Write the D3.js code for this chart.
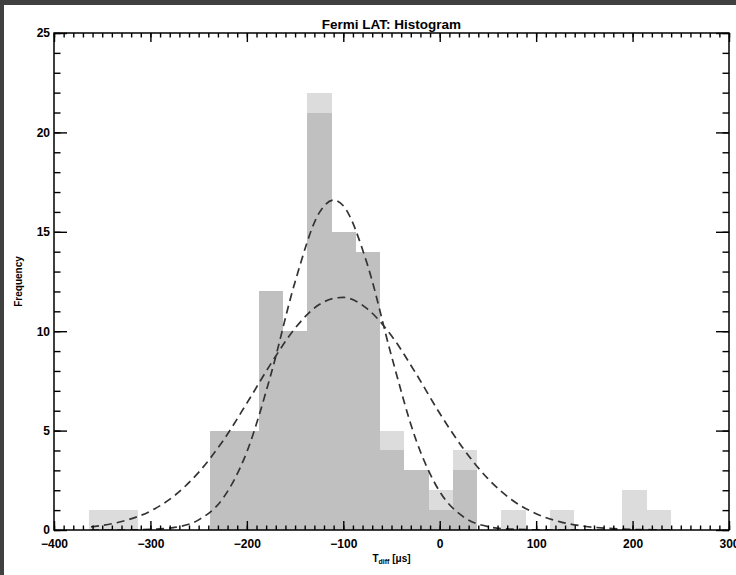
<!DOCTYPE html>
<html><head><meta charset="utf-8">
<script src="https://cdn.jsdelivr.net/npm/d3@7"></script>
<style>body{margin:0;background:#404040;} svg{display:block}</style>
</head><body><svg id="c" width="736" height="575"></svg>
<script>
// ---- data ----
const binEdges = [-363.4, -338.3, -313.1, -288.0, -262.9, -237.8, -212.6, -187.5, -162.4, -137.2, -112.1, -87.0, -61.8, -36.7, -11.6, 13.6, 38.7, 63.8, 89.0, 114.1, 139.2, 164.3, 189.5, 214.6, 239.7];
const allCounts    = [1, 1, 0, 0, 0, 5, 5, 12, 10, 22, 15, 14, 5, 3, 2, 4, 0, 1, 0, 1, 0, 0, 2, 1];
const subsetCounts = [0, 0, 0, 0, 0, 5, 5, 12, 10, 21, 15, 14, 4, 3, 1, 3, 0, 0, 0, 0, 0, 0, 0, 0];
const curveX  = [-375, -350, -325, -300, -275, -250, -225, -200, -175, -150, -125, -110, -100, -75, -50, -25, 0, 25, 50, 75, 100, 125, 150, 175, 200, 225, 250];
const narrowY = [0.00, 0.00, 0.00, 0.03, 0.13, 0.51, 1.58, 3.93, 7.83, 12.48, 15.95, 16.6, 16.31, 13.35, 8.75, 4.59, 1.93, 0.65, 0.17, 0.04, 0.01, 0.00, 0.00, 0.00, 0.00, 0.00, 0.00];
const wideY   = [0.10, 0.23, 0.49, 0.95, 1.73, 2.90, 4.47, 6.38, 8.37, 10.15, 11.34, 11.65, 11.70, 11.12, 9.77, 7.90, 5.87, 4.06, 2.58, 1.51, 0.82, 0.41, 0.19, 0.08, 0.03, 0.01, 0.00];
const xTicks = [-400, -300, -200, -100, 0, 100, 200, 300];
const yTicks = [0, 5, 10, 15, 20, 25];
const titleText = "Fermi LAT: Histogram";
const yTitle = "Frequency";

// ---- layout ----
const L = 54, R = 729, T = 33, B = 530;
const svg = d3.select("#c");
svg.append("rect").attr("x", 4).attr("y", 5).attr("width", 732).attr("height", 570).attr("fill", "#fff");

const x = d3.scaleLinear().domain([-400, 300]).range([L, R]);
const y = d3.scaleLinear().domain([0, 25]).range([B, T]);

const bins = allCounts.map((c, i) => ({x0: binEdges[i], x1: binEdges[i + 1], all: c, sub: subsetCounts[i]}));

const g = svg.append("g");
g.selectAll("rect.all").data(bins.filter(d => d.all > 0)).join("rect")
  .attr("x", d => x(d.x0)).attr("width", d => x(d.x1) - x(d.x0))
  .attr("y", d => y(d.all)).attr("height", d => y(0) - y(d.all))
  .attr("fill", "#dcdcdc").attr("shape-rendering", "crispEdges");
g.selectAll("rect.sub").data(bins.filter(d => d.sub > 0)).join("rect")
  .attr("x", d => x(d.x0)).attr("width", d => x(d.x1) - x(d.x0))
  .attr("y", d => y(d.sub)).attr("height", d => y(0) - y(d.sub))
  .attr("fill", "#c0c0c0").attr("shape-rendering", "crispEdges");

// curves
svg.append("clipPath").attr("id", "cp").append("rect")
  .attr("x", x(binEdges[0])).attr("y", T).attr("width", x(binEdges[binEdges.length - 1]) - x(binEdges[0])).attr("height", B - T);
const line = d3.line().x(d => x(d[0])).y(d => y(d[1])).curve(d3.curveMonotoneX);
[narrowY, wideY].forEach(arr => {
  svg.append("path").datum(curveX.map((v, i) => [v, arr[i]]))
    .attr("d", line).attr("fill", "none").attr("stroke", "#333")
    .attr("stroke-width", 1.7).attr("stroke-dasharray", "8,5")
    .attr("clip-path", "url(#cp)");
});

// axes (IDL style, inward ticks on all sides)
const fmt = d => d < 0 ? "\u2212" + Math.abs(d) : String(d);
function styleAxis(sel) {
  sel.select(".domain").remove();
  sel.selectAll("line").attr("stroke", "#000").attr("stroke-width", 1.4);
  sel.selectAll("text").attr("font-family", "Liberation Sans, Arial, sans-serif")
    .attr("font-weight", "bold").attr("font-size", 12).attr("fill", "#000");
}
const xMinor = d3.range(-400, 301, 10);
const yMinor = d3.range(0, 26, 1);
svg.append("g").attr("transform", `translate(0,${B})`)
  .call(d3.axisBottom(x).tickValues(xMinor).tickSize(-4.5).tickFormat("")).call(styleAxis);
svg.append("g").attr("transform", `translate(0,${B})`)
  .call(d3.axisBottom(x).tickValues(xTicks).tickSize(-9).tickPadding(9).tickFormat(fmt)).call(styleAxis);
svg.append("g").attr("transform", `translate(0,${T})`)
  .call(d3.axisTop(x).tickValues(xMinor).tickSize(-4.5).tickFormat("")).call(styleAxis);
svg.append("g").attr("transform", `translate(0,${T})`)
  .call(d3.axisTop(x).tickValues(xTicks).tickSize(-9).tickFormat("")).call(styleAxis);
svg.append("g").attr("transform", `translate(${L},0)`)
  .call(d3.axisLeft(y).tickValues(yMinor).tickSize(-6.5).tickFormat("")).call(styleAxis);
svg.append("g").attr("transform", `translate(${L},0)`)
  .call(d3.axisLeft(y).tickValues(yTicks).tickSize(-13).tickPadding(4).tickFormat(fmt)).call(styleAxis);
svg.append("g").attr("transform", `translate(${R},0)`)
  .call(d3.axisRight(y).tickValues(yMinor).tickSize(-6.5).tickFormat("")).call(styleAxis);
svg.append("g").attr("transform", `translate(${R},0)`)
  .call(d3.axisRight(y).tickValues(yTicks).tickSize(-13).tickFormat("")).call(styleAxis);

svg.append("rect").attr("x", L).attr("y", T).attr("width", R - L).attr("height", B - T)
  .attr("fill", "none").attr("stroke", "#000").attr("stroke-width", 1.5);

// titles
const ff = "Liberation Sans, Arial, sans-serif";
svg.append("text").attr("x", (L + R) / 2).attr("y", 29).attr("text-anchor", "middle")
  .attr("font-family", ff).attr("font-weight", "bold").attr("font-size", 13.5).text(titleText);
const xt = svg.append("text").attr("x", (L + R) / 2).attr("y", 562).attr("text-anchor", "middle")
  .attr("font-family", ff).attr("font-weight", "bold").attr("font-size", 10);
xt.append("tspan").text("T");
xt.append("tspan").attr("font-size", 7).attr("dy", 2).text("diff");
xt.append("tspan").attr("dy", -2).text(" [\u03bcs]");
svg.append("text").attr("transform", `translate(22,${(T + B) / 2}) rotate(-90)`).attr("text-anchor", "middle")
  .attr("font-family", ff).attr("font-weight", "bold").attr("font-size", 10).text(yTitle);
</script></body></html>
